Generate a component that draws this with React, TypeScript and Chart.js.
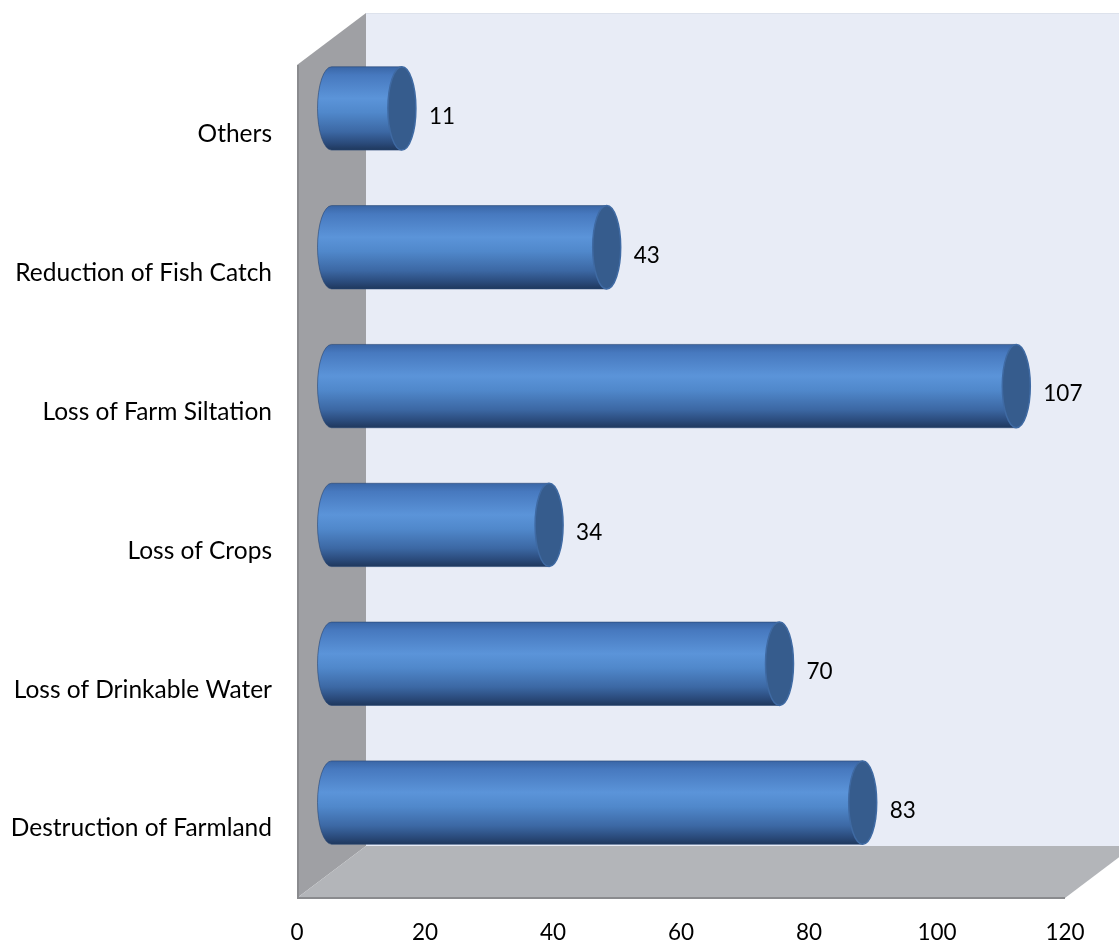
import React, { useEffect, useRef } from "react";
import { Chart, registerables } from "chart.js";

Chart.register(...registerables);

const categories = [
  "Destruction of Farmland",
  "Loss of Drinkable Water",
  "Loss of Crops",
  "Loss of Farm Siltation",
  "Reduction of Fish Catch",
  "Others",
];
const values = [83, 70, 34, 107, 43, 11];
const xTicks = [0, 20, 40, 60, 80, 100, 120];

const FONT = "Lato, 'Open Sans', sans-serif";
const DEPTH_DX = 69;
const DEPTH_DY = -52;

const wallsPlugin = {
  id: "walls3d",
  beforeDatasetsDraw(chart: any) {
    const { ctx, chartArea } = chart;
    const { left: L, right: R, top: T, bottom: B } = chartArea;
    const dx = DEPTH_DX, dy = DEPTH_DY;
    ctx.save();
    // back wall
    ctx.fillStyle = "#e8ecf6";
    ctx.fillRect(L + dx, T + dy, R - L, B - T);
    ctx.strokeStyle = "#dde2ec";
    ctx.lineWidth = 1;
    ctx.beginPath();
    ctx.moveTo(L + dx, T + dy + 0.5);
    ctx.lineTo(R + dx, T + dy + 0.5);
    ctx.stroke();
    // side wall
    ctx.fillStyle = "#9fa0a4";
    ctx.beginPath();
    ctx.moveTo(L, T);
    ctx.lineTo(L + dx, T + dy);
    ctx.lineTo(L + dx, B + dy);
    ctx.lineTo(L, B);
    ctx.closePath();
    ctx.fill();
    // floor
    ctx.fillStyle = "#b3b5b9";
    ctx.beginPath();
    ctx.moveTo(L, B);
    ctx.lineTo(L + dx, B + dy);
    ctx.lineTo(R + dx, B + dy);
    ctx.lineTo(R, B);
    ctx.closePath();
    ctx.fill();
    // edges
    ctx.strokeStyle = "#8a8b8e";
    ctx.lineWidth = 2;
    ctx.beginPath();
    ctx.moveTo(L + 1, T);
    ctx.lineTo(L + 1, B);
    ctx.lineTo(R, B);
    ctx.stroke();
    ctx.restore();
  },
};

const cylinderPlugin = {
  id: "cylinders",
  afterDatasetsDraw(chart: any) {
    const { ctx } = chart;
    const meta = chart.getDatasetMeta(0);
    const ox = DEPTH_DX / 2, oy = DEPTH_DY / 2;
    ctx.save();
    meta.data.forEach((el: any, i: number) => {
      const p = el.getProps(["x", "y", "base", "height"], true);
      const x0 = p.base + ox;
      const x1 = p.x + ox;
      const cy = p.y + oy;
      const ry = p.height / 2;
      const rx = 14;
      const top = cy - ry, bot = cy + ry;
      const g = ctx.createLinearGradient(0, top, 0, bot);
      g.addColorStop(0, "#3a66a6");
      g.addColorStop(0.1, "#4779bf");
      g.addColorStop(0.38, "#5b94d9");
      g.addColorStop(0.55, "#5088cb");
      g.addColorStop(0.78, "#3c68a4");
      g.addColorStop(0.92, "#2a4a7a");
      g.addColorStop(1, "#1f385d");
      ctx.beginPath();
      ctx.moveTo(x1, top);
      ctx.lineTo(x0, top);
      ctx.ellipse(x0, cy, rx, ry, 0, -Math.PI / 2, Math.PI / 2, true);
      ctx.lineTo(x1, bot);
      ctx.closePath();
      ctx.fillStyle = g;
      ctx.fill();
      ctx.strokeStyle = "rgba(40,70,115,0.6)";
      ctx.lineWidth = 1;
      ctx.stroke();
      // end cap
      ctx.beginPath();
      ctx.ellipse(x1, cy, rx, ry, 0, 0, Math.PI * 2);
      ctx.fillStyle = "#365c8d";
      ctx.fill();
      ctx.strokeStyle = "#3f6aa3";
      ctx.lineWidth = 1.5;
      ctx.stroke();
      // value label
      ctx.fillStyle = "#000";
      ctx.font = `22.5px ${FONT}`;
      ctx.textAlign = "left";
      ctx.textBaseline = "middle";
      ctx.fillText(String(values[i]), x1 + rx + 13, cy + 8);
    });
    ctx.restore();
  },
};

export default function App() {
  const ref = useRef<HTMLCanvasElement | null>(null);
  useEffect(() => {
    document.body.style.margin = "0";
    const canvas = ref.current!;
    const chart = new Chart(canvas, {
      type: "bar",
      data: {
        labels: categories,
        datasets: [
          {
            data: values,
            backgroundColor: "rgba(0,0,0,0)",
            borderWidth: 0,
            categoryPercentage: 1,
            barPercentage: 0.6,
          },
        ],
      },
      options: {
        indexAxis: "y",
        responsive: false,
        animation: false,
        layout: { padding: { top: 65, right: 54, left: 0, bottom: 0 } },
        plugins: { legend: { display: false }, tooltip: { enabled: false } },
        scales: {
          x: {
            min: 0,
            max: 120,
            afterBuildTicks: (s: any) => {
              s.ticks = xTicks.map((v) => ({ value: v }));
            },
            afterFit: (s: any) => {
              s.height = 45;
            },
            grid: { display: false, drawTicks: false },
            border: { display: false },
            ticks: { color: "#000", font: { family: FONT, size: 22.5 }, padding: 21 },
          },
          y: {
            reverse: true,
            afterFit: (s: any) => {
              s.width = 297;
            },
            grid: { display: false, drawTicks: false },
            border: { display: false },
            ticks: { color: "#000", font: { family: FONT, size: 24.5 }, padding: 25 },
          },
        },
      },
      plugins: [wallsPlugin, cylinderPlugin],
    } as any);
    return () => chart.destroy();
  }, []);
  return (
    <div style={{ width: 1119, height: 943, background: "#fff" }}>
      <canvas ref={ref} width={1119} height={943} />
    </div>
  );
}
